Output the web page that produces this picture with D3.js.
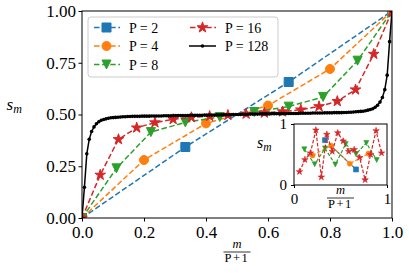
<!DOCTYPE html>
<html>
<head>
<meta charset="utf-8">
<script src="https://cdn.jsdelivr.net/npm/d3@7"></script>
<style>
body { margin: 0; background: #fff; }
</style>
</head>
<body>
<svg id="chart" width="409" height="273" style="font-family: 'Liberation Serif', serif;"></svg>
<script>
// values, endpoints included (x = m / (P + 1))
var seriesP = [2, 4, 8, 16, 128];
var seriesLabels = ["P = 2", "P = 4", "P = 8", "P = 16", "P = 128"];
var s2 = [0, 0.343, 0.657, 1];
var s4 = [0, 0.280, 0.457, 0.543, 0.720, 1];
var s8 = [0, 0.240, 0.415, 0.462, 0.488, 0.512, 0.538, 0.585, 0.760, 1];
var s16 = [0, 0.208, 0.380, 0.436, 0.461, 0.477, 0.486, 0.492, 0.497,
	0.503, 0.508, 0.514, 0.523, 0.539, 0.564, 0.620, 0.792, 1];
var s128 = [0,
	0.148, 0.310, 0.380, 0.418, 0.440, 0.455, 0.465, 0.472, 0.476, 0.479,
	0.482, 0.484, 0.485, 0.486, 0.487, 0.488, 0.489, 0.489, 0.490, 0.490,
	0.491, 0.491, 0.491, 0.491, 0.492, 0.492, 0.492, 0.492, 0.493, 0.493,
	0.493, 0.493, 0.493, 0.494, 0.494, 0.494, 0.494, 0.494, 0.495, 0.495,
	0.495, 0.495, 0.495, 0.495, 0.496, 0.496, 0.496, 0.496, 0.496, 0.496,
	0.497, 0.497, 0.497, 0.497, 0.497, 0.498, 0.498, 0.498, 0.498, 0.499,
	0.499, 0.499, 0.500, 0.500,
	0.500, 0.500, 0.501, 0.501, 0.501, 0.502, 0.502, 0.502, 0.502, 0.503,
	0.503, 0.503, 0.503, 0.503, 0.504, 0.504, 0.504, 0.504, 0.504, 0.504,
	0.505, 0.505, 0.505, 0.505, 0.505, 0.505, 0.506, 0.506, 0.506, 0.506,
	0.506, 0.507, 0.507, 0.507, 0.507, 0.507, 0.508, 0.508, 0.508, 0.508,
	0.509, 0.509, 0.509, 0.509, 0.510, 0.510, 0.511, 0.511, 0.512, 0.513,
	0.514, 0.515, 0.516, 0.518, 0.521, 0.524, 0.528, 0.535, 0.545, 0.560,
	0.582, 0.620, 0.690, 0.852,
	1];

// inset: unsorted values, x = k / (P + 1), k = 1..P
var inset2 = [0.735, 0.255];
var inset4 = [0.485, 0.645, 0.350, 0.515];
var inset8 = [0.585, 0.340, 0.600, 0.336, 0.672, 0.508, 0.689, 0.410];
var inset16 = [0.218, 0.415, 0.525, 0.900, 0.130, 0.830, 0.550, 0.855,
	0.720, 0.550, 0.580, 0.450, 0.085, 0.500, 0.890, 0.525];

var xTicks = [0, 0.2, 0.4, 0.6, 0.8, 1];
var xTickLabels = ["0.0", "0.2", "0.4", "0.6", "0.8", "1.0"];
var yTicks = [0, 0.25, 0.5, 0.75, 1];
var yTickLabels = ["0.00", "0.25", "0.50", "0.75", "1.00"];
var insetTicks = [0, 1];
var insetTickLabels = ["0", "1"];

var colors = ["#1f77b4", "#ff7f0e", "#2ca02c", "#d62728", "#000000"];
var markers = ["square", "circle", "triangle", "star", "dot"];
var FONT = "'Liberation Serif', serif";

var svg = d3.select("#chart");

function markerPath(type, s) {
	if (type == "square") return d3.symbol(d3.symbolSquare, s * s)();
	if (type == "circle" || type == "dot") return d3.symbol(d3.symbolCircle, Math.PI * s * s / 4)();
	if (type == "triangle") return "M" + (-s / 2) + "," + (-s / 2) + "L" + (s / 2) + "," + (-s / 2) + "L0," + (s / 2) + "Z";
	// star: s is the outer radius
	return d3.symbol(d3.symbolStar, s * s / 0.8908130915292852)();
}

function markerSize(type, small) {
	if (small) return type == "star" ? 3.4 : 5;
	if (type == "star") return 5.6;
	if (type == "dot") return 3.6;
	return 9;
}

function addText(parent, size) {
	return parent.append("text").style("font-family", FONT).style("font-size", size + "px").style("fill", "#000");
}

function drawSeries(g, xs, ys, points, i, small) {
	var line = d3.line().x(function(d) { return xs(d[0]); }).y(function(d) { return ys(d[1]); });
	var path = g.append("path")
		.attr("d", line(points))
		.style("fill", "none")
		.style("stroke", colors[i])
		.style("stroke-width", small ? 1.2 : 1.5);
	if (markers[i] != "dot") {
		path.style("stroke-dasharray", small ? "3.5,1.8" : "5.5,2.6");
	}
	var d = markerPath(markers[i], markerSize(markers[i], small));
	g.selectAll(null).data(points).enter().append("path")
		.attr("d", d)
		.attr("transform", function(p) { return "translate(" + xs(p[0]) + "," + ys(p[1]) + ")"; })
		.style("fill", colors[i])
		.style("stroke", colors[i])
		.style("stroke-width", markers[i] == "dot" ? 0 : (small ? 0.6 : 1));
}

// main axes
var x = d3.scaleLinear().domain([0, 1]).range([82, 392]);
var y = d3.scaleLinear().domain([0, 1]).range([218, 11]);

var defs = svg.append("defs");
defs.append("clipPath").attr("id", "clip-main").append("rect")
	.attr("x", 82).attr("y", 11).attr("width", 310).attr("height", 207);

var plot = svg.append("g").attr("clip-path", "url(#clip-main)");
[s2, s4, s8, s16, s128].forEach(function(values, i) {
	var P = seriesP[i];
	var points = values.map(function(v, m) { return [m / (P + 1), v]; });
	drawSeries(plot, x, y, points, i, false);
});

svg.append("rect")
	.attr("x", 82).attr("y", 11).attr("width", 310).attr("height", 207)
	.style("fill", "none").style("stroke", "#000").style("stroke-width", 1);

var xAxis = svg.append("g").attr("transform", "translate(0,218)")
	.call(d3.axisBottom(x).tickValues(xTicks).tickSize(3.5).tickSizeOuter(0).tickPadding(4.5)
		.tickFormat(function(d, i) { return xTickLabels[i]; }));
var yAxis = svg.append("g").attr("transform", "translate(82,0)")
	.call(d3.axisLeft(y).tickValues(yTicks).tickSize(3.5).tickSizeOuter(0).tickPadding(2.5)
		.tickFormat(function(d, i) { return yTickLabels[i]; }));
[xAxis, yAxis].forEach(function(a) {
	a.attr("font-family", FONT).attr("font-size", 17);
	a.select(".domain").remove();
	a.selectAll("line").style("stroke", "#000");
	a.selectAll("text").style("font-family", FONT).style("font-size", "17px");
});

// y label s_m
var ylab = addText(svg, 17).attr("x", 6.5).attr("y", 109.5);
ylab.append("tspan").text("s").style("font-style", "italic");
ylab.append("tspan").text("m").style("font-style", "italic").style("font-size", "12px").attr("dy", 3);

// x label m / (P+1)
function fraction(cx, cy) {
	addText(svg, 12.5).attr("x", cx).attr("y", cy - 4).attr("text-anchor", "middle")
		.style("font-style", "italic").text("m");
	svg.append("line").attr("x1", cx - 13.5).attr("x2", cx + 13.5).attr("y1", cy).attr("y2", cy)
		.style("stroke", "#000").style("stroke-width", 0.8);
	addText(svg, 12.5).attr("x", cx).attr("y", cy + 10).attr("text-anchor", "middle")
		.style("letter-spacing", "1.5px").text("P+1");
}
fraction(237, 252);

// legend
var legend = svg.append("g");
legend.append("rect")
	.attr("x", 88).attr("y", 17).attr("width", 190).attr("height", 60).attr("rx", 3)
	.style("fill", "#fff").style("fill-opacity", 0.8)
	.style("stroke", "#cccccc").style("stroke-width", 1);
var legendCols = [93, 189];
var legendRows = [27.5, 46, 64.5];
seriesLabels.forEach(function(label, i) {
	var col = i < 3 ? 0 : 1;
	var row = i < 3 ? i : i - 3;
	var lx = legendCols[col], ly = legendRows[row];
	var lg = legend.append("g");
	var hx = d3.scaleLinear().domain([0, 1]).range([lx, lx + 27]);
	var line = lg.append("path")
		.attr("d", "M" + hx(0) + "," + ly + "L" + hx(1) + "," + ly)
		.style("stroke", colors[i]).style("stroke-width", 1.5);
	if (markers[i] != "dot") line.style("stroke-dasharray", "5.5,2.6").style("stroke-dashoffset", -1);
	lg.append("path")
		.attr("d", markerPath(markers[i], markerSize(markers[i], false)))
		.attr("transform", "translate(" + hx(0.5) + "," + ly + ")")
		.style("fill", colors[i]).style("stroke", colors[i])
		.style("stroke-width", markers[i] == "dot" ? 0 : 1);
	addText(lg, 14).attr("x", lx + 36).attr("y", ly + 5).text(label);
});

// inset axes
var ix = d3.scaleLinear().domain([0, 1]).range([294, 387]);
var iy = d3.scaleLinear().domain([0, 1]).range([185, 124]);
svg.append("rect").attr("x", 294).attr("y", 124).attr("width", 93).attr("height", 61).style("fill", "#fff");
defs.append("clipPath").attr("id", "clip-inset").append("rect")
	.attr("x", 294).attr("y", 124).attr("width", 93).attr("height", 61);
var inset = svg.append("g").attr("clip-path", "url(#clip-inset)");
[inset2, inset4, inset8, inset16].forEach(function(values, i) {
	var P = seriesP[i];
	var points = values.map(function(v, k) { return [(k + 1) / (P + 1), v]; });
	drawSeries(inset, ix, iy, points, i, true);
});
svg.append("rect").attr("x", 294).attr("y", 124).attr("width", 93).attr("height", 61)
	.style("fill", "none").style("stroke", "#000").style("stroke-width", 1);

var ixAxis = svg.append("g").attr("transform", "translate(0,185)")
	.call(d3.axisBottom(ix).tickValues(insetTicks).tickSize(3).tickSizeOuter(0).tickPadding(5)
		.tickFormat(function(d, i) { return insetTickLabels[i]; }));
var iyAxis = svg.append("g").attr("transform", "translate(294,0)")
	.call(d3.axisLeft(iy).tickValues(insetTicks).tickSize(3).tickSizeOuter(0).tickPadding(4)
		.tickFormat(function(d, i) { return insetTickLabels[i]; }));
[ixAxis, iyAxis].forEach(function(a) {
	a.attr("font-family", FONT).attr("font-size", 15);
	a.select(".domain").remove();
	a.selectAll("line").style("stroke", "#000");
	a.selectAll("text").style("font-family", FONT).style("font-size", "15px");
});

var iylab = addText(svg, 16).attr("x", 257).attr("y", 148);
iylab.append("tspan").text("s").style("font-style", "italic");
iylab.append("tspan").text("m").style("font-style", "italic").style("font-size", "11.5px").attr("dy", 3);

fraction(340.5, 198);
</script>
</body>
</html>
